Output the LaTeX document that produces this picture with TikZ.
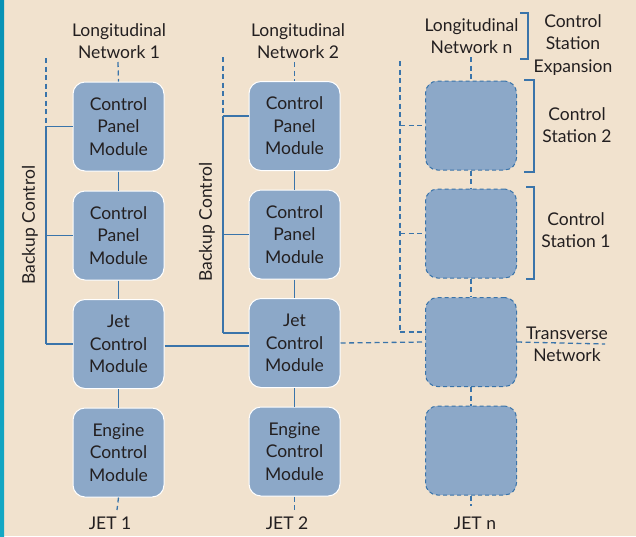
\documentclass[tikz,border=0pt]{standalone}
\usepackage{fontspec}
\setmainfont{Lato}
\definecolor{bgbeige}{RGB}{241,226,206}
\definecolor{boxblue}{RGB}{140,168,200}
\definecolor{lineblue}{RGB}{58,116,170}
\definecolor{txt}{RGB}{35,31,32}
\definecolor{tealbar}{RGB}{8,146,181}
\definecolor{tealbarb}{RGB}{20,168,196}
\begin{document}
\begin{tikzpicture}[x=1pt,y=-1pt,
  lbl/.style={font=\fontsize{17.5}{22.5}\selectfont, text=txt, align=center, inner sep=0pt},
  modbox/.style={lbl, rounded corners=12pt, fill=boxblue, draw=white, line width=1pt,
    minimum width=91pt, minimum height=89pt},
  ghostbox/.style={modbox, draw=lineblue, dash pattern=on 4pt off 3pt, line width=1pt},
  link/.style={draw=lineblue, line width=1.3pt},
  dlink/.style={draw=lineblue, line width=1.3pt, dash pattern=on 5pt off 3.5pt},
  brk/.style={draw=lineblue, line width=1.3pt}]
\useasboundingbox (0,0) rectangle (636,536);
\fill[bgbeige] (0,0) rectangle (636,536);
\shade[top color=tealbar, bottom color=tealbarb] (0,0) rectangle (4,536);

% column 1
\node[modbox] (a1) at (118.5,126.5) {Control\\Panel\\Module};
\node[modbox] (a2) at (118.5,235.5) {Control\\Panel\\Module};
\node[modbox] (a3) at (118.5,344) {Jet\\Control\\Module};
\node[modbox] (a4) at (118.5,452.5) {Engine\\Control\\Module};
% column 2
\node[modbox] (b1) at (294.5,126) {Control\\Panel\\Module};
\node[modbox] (b2) at (294.5,234.5) {Control\\Panel\\Module};
\node[modbox] (b3) at (294.5,343) {Jet\\Control\\Module};
\node[modbox] (b4) at (294.5,451.5) {Engine\\Control\\Module};
% column 3
\node[ghostbox] (c1) at (471,125.5) {};
\node[ghostbox] (c2) at (471,233.5) {};
\node[ghostbox] (c3) at (471,342) {};
\node[ghostbox] (c4) at (471,450.5) {};

% labels
\node[lbl] (la) at (119,41) {Longitudinal\\Network 1};
\node[lbl] (lb) at (298,41) {Longitudinal\\Network 2};
\node[lbl] (lc) at (471.5,36) {Longitudinal\\Network n};
\node[lbl] (cse) at (573,45) {Control\\Station\\Expansion};
\node[lbl] (cs2) at (577,125) {Control\\Station 2};
\node[lbl] (cs1) at (576,230) {Control\\Station 1};
\node[lbl] (tn) at (567,344.5) {Transverse\\Network};
\node[lbl] (ja) at (110,523) {JET 1};
\node[lbl] (jb) at (287,523) {JET 2};
\node[lbl] (jc) at (475,523) {JET n};
\node[lbl, rotate=90] (bka) at (30,225) {Backup Control};
\node[lbl, rotate=90] (bkb) at (207,222) {Backup Control};

% free ends
\coordinate (ta) at (118,62);
\coordinate (tb) at (294.5,62);
\coordinate (tc) at (471,57);
\coordinate (ea) at (117,510);
\coordinate (eb) at (294.5,510);
\coordinate (ec) at (471,506);
\coordinate (ka) at (46,58);
\coordinate (kb) at (223,57);
\coordinate (kc) at (400,61);
\coordinate (tend) at (605,344);

% vertical links
\draw[dlink] (ta) -- (a1.north);
\draw[link] (a1) -- (a2);
\draw[link] (a2) -- (a3);
\draw[link] (a3) -- (a4);
\draw[dlink] (a4.south) -- (ea);
\draw[dlink] (tb) -- (b1.north);
\draw[link] (b1) -- (b2);
\draw[link] (b2) -- (b3);
\draw[link] (b3) -- (b4);
\draw[dlink] (b4.south) -- (eb);
\draw[dlink] (tc) -- (c1.north);
\draw[dlink] (c1) -- (c2);
\draw[dlink] (c2) -- (c3);
\draw[dlink] (c3) -- (c4);
\draw[dlink] (c4.south) -- (ec);

% backup control 1
\draw[dlink] (ka) -- (ka |- a1.west);
\draw[link] (ka |- a1.west) -- (ka |- a3.west);
\draw[link] (ka |- a1.west) -- (a1.west);
\draw[link] (ka |- a2.west) -- (a2.west);
\draw[link] (ka |- a3.west) -- (a3.west);
% backup control 2
\draw[dlink] (kb) -- ([yshift=10pt]kb |- b1.west);
\draw[link] ([yshift=10pt]kb |- b1.west) -- ([yshift=10pt]kb |- b3.west);
\draw[link] ([yshift=10pt]kb |- b1.west) -- ([yshift=10pt]b1.west);
\draw[link] (kb |- b2.west) -- (b2.west);
\draw[link] ([yshift=10pt]kb |- b3.west) -- ([yshift=10pt]b3.west);
% backup control n
\draw[dlink] (kc) -- ([yshift=10pt]kc |- c3.west);
\draw[dlink] (kc |- c1.west) -- (c1.west);
\draw[dlink] (kc |- c2.west) -- (c2.west);
\draw[dlink] ([yshift=10pt]kc |- c3.west) -- ([yshift=10pt]c3.west);

% jet interconnection and transverse network
\draw[link] ([yshift=-2pt]a3.east) -- ([yshift=-2pt]a3.east -| b3.west);
\draw[dlink] (b3.east) -- (c3.west);
\draw[dlink] (c3.east) -- (tend);

% brackets
\draw[brk] (520,13) -| (528,59) -- (520,59);
\draw[brk] (524,80) -| (534,172) -- (524,172);
\draw[brk] (526,187) -| (534,279) -- (526,279);
\end{tikzpicture}
\end{document}
